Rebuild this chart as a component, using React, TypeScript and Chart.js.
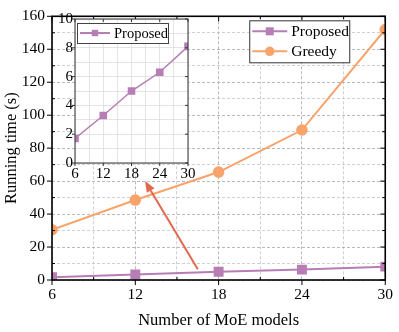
import React, { useEffect, useRef } from "react";
import { Chart, registerables } from "chart.js";

Chart.register(...registerables);

const categories = [6, 12, 18, 24, 30];
const proposed = [1.7, 3.3, 5.0, 6.3, 8.1];
const greedy = [30.5, 48.5, 65.5, 91, 152];
const seriesNames = ["Proposed", "Greedy"];
const xTitle = "Number of MoE models";
const yTitle = "Running time (s)";
const arrowFrom = { x: 16.5, y: 6.5 };
const arrowTo = { x: 12.7, y: 60 };

const FONT = "'Liberation Serif', 'Times New Roman', serif";
const PURPLE = "#b77db5";
const ORANGE = "#f6a36c";
const ARROW = "#e0694f";

function toXY(ys: number[]) {
  return categories.map((x, i) => ({ x, y: ys[i] }));
}

function drawTicks(chart: any, opts: { xMajor: number; yMajor: number; majorLen: number; minorLen: number; outward: boolean; frameColor: string; frameWidth: number; }) {
  const { ctx, chartArea: a, scales } = chart;
  const xs = scales.x, ys = scales.y;
  ctx.save();
  ctx.strokeStyle = opts.frameColor;
  ctx.lineWidth = 1;
  ctx.beginPath();
  xs.ticks.forEach((t: any) => {
    const px = xs.getPixelForValue(t.value);
    const major = Math.abs(t.value % opts.xMajor) < 1e-6 || Math.abs((t.value % opts.xMajor) - opts.xMajor) < 1e-6;
    if (major) {
      if (opts.outward) { ctx.moveTo(px, a.bottom); ctx.lineTo(px, a.bottom + opts.majorLen); }
      ctx.moveTo(px, a.top); ctx.lineTo(px, a.top + opts.majorLen);
    } else if (opts.minorLen > 0) {
      ctx.moveTo(px, a.bottom); ctx.lineTo(px, a.bottom - opts.minorLen);
      ctx.moveTo(px, a.top); ctx.lineTo(px, a.top + opts.minorLen);
    }
  });
  ys.ticks.forEach((t: any) => {
    const py = ys.getPixelForValue(t.value);
    const major = Math.abs(t.value % opts.yMajor) < 1e-6;
    if (major) {
      if (opts.outward) { ctx.moveTo(a.left, py); ctx.lineTo(a.left - opts.majorLen, py); }
      ctx.moveTo(a.right, py); ctx.lineTo(a.right - opts.majorLen, py);
    } else if (opts.minorLen > 0) {
      ctx.moveTo(a.left, py); ctx.lineTo(a.left + opts.minorLen, py);
      ctx.moveTo(a.right, py); ctx.lineTo(a.right - opts.minorLen, py);
    }
  });
  ctx.stroke();
  ctx.lineWidth = opts.frameWidth;
  ctx.strokeRect(a.left, a.top, a.right - a.left, a.bottom - a.top);
  ctx.restore();
}

function drawLegendEntry(ctx: CanvasRenderingContext2D, x: number, y: number, len: number, color: string, style: string, r: number, label: string, fontSize: number) {
  ctx.save();
  ctx.strokeStyle = color;
  ctx.lineWidth = 2;
  ctx.beginPath();
  ctx.moveTo(x, y);
  ctx.lineTo(x + len, y);
  ctx.stroke();
  ctx.fillStyle = color;
  const cx = x + len / 2;
  if (style === "rect") {
    ctx.fillRect(cx - r, y - r, 2 * r, 2 * r);
  } else {
    ctx.beginPath();
    ctx.arc(cx, y, r, 0, Math.PI * 2);
    ctx.fill();
  }
  ctx.fillStyle = "#000";
  ctx.font = `${fontSize}px ${FONT}`;
  ctx.textBaseline = "middle";
  ctx.textAlign = "left";
  ctx.fillText(label, x + len + 4, y + 1);
  ctx.restore();
}

export default function App() {
  const mainRef = useRef<HTMLCanvasElement>(null);
  const insetRef = useRef<HTMLCanvasElement>(null);

  useEffect(() => {
    const mainPlugin = {
      id: "mainDeco",
      afterDatasetsDraw(chart: any) {
        const { ctx, scales } = chart;
        const x1 = scales.x.getPixelForValue(arrowFrom.x), y1 = scales.y.getPixelForValue(arrowFrom.y);
        const x2 = scales.x.getPixelForValue(arrowTo.x), y2 = scales.y.getPixelForValue(arrowTo.y);
        const ang = Math.atan2(y2 - y1, x2 - x1);
        const hl = 11, hw = 4.5;
        const bx = x2 - hl * Math.cos(ang), by = y2 - hl * Math.sin(ang);
        ctx.save();
        ctx.strokeStyle = ARROW;
        ctx.fillStyle = ARROW;
        ctx.lineWidth = 2;
        ctx.beginPath();
        ctx.moveTo(x1, y1);
        ctx.lineTo(bx, by);
        ctx.stroke();
        ctx.beginPath();
        ctx.moveTo(x2, y2);
        ctx.lineTo(bx + hw * Math.sin(ang), by - hw * Math.cos(ang));
        ctx.lineTo(bx - hw * Math.sin(ang), by + hw * Math.cos(ang));
        ctx.closePath();
        ctx.fill();
        ctx.restore();
      },
      afterDraw(chart: any) {
        drawTicks(chart, { xMajor: 6, yMajor: 20, majorLen: 5, minorLen: 3, outward: true, frameColor: "#000", frameWidth: 1.6 });
        const { ctx, chartArea: a } = chart;
        const lx = a.right - 136, ly = a.top + 4, lw = 100, lh = 42;
        ctx.save();
        ctx.fillStyle = "#fff";
        ctx.fillRect(lx, ly, lw, lh);
        ctx.strokeStyle = "#333";
        ctx.lineWidth = 1;
        ctx.strokeRect(lx + 0.5, ly + 0.5, lw, lh);
        ctx.restore();
        drawLegendEntry(ctx, lx + 3, ly + 11, 35, PURPLE, "rect", 4, seriesNames[0], 15.5);
        drawLegendEntry(ctx, lx + 3, ly + 31, 35, ORANGE, "circle", 4.8, seriesNames[1], 15.5);
      },
    };

    const main = new Chart(mainRef.current!, {
      type: "line",
      data: {
        datasets: [
          {
            label: seriesNames[0], data: toXY(proposed), borderColor: PURPLE, backgroundColor: PURPLE,
            borderWidth: 2, pointStyle: "rect", pointRadius: 5.6, pointHoverRadius: 5.6,
          },
          {
            label: seriesNames[1], data: toXY(greedy), borderColor: ORANGE, backgroundColor: ORANGE,
            borderWidth: 2, pointStyle: "circle", pointRadius: 4.8, pointHoverRadius: 4.8,
          },
        ],
      },
      options: {
        responsive: false,
        animation: false,
        layout: { padding: { top: 11, right: 10, left: 0, bottom: 0 } },
        plugins: { legend: { display: false }, tooltip: { enabled: false } },
        scales: {
          x: {
            type: "linear", min: 6, max: 30,
            afterFit(s: any) { s.height = 52; },
            ticks: {
              stepSize: 3, autoSkip: false, maxRotation: 0, padding: 6,
              color: "#000", font: { family: FONT, size: 15.5 },
              callback: (v: any) => (v % 6 === 0 ? String(v) : ""),
            },
            grid: {
              drawTicks: false, lineWidth: 0.8,
              color: (c: any) => (c.tick && c.tick.value % 6 === 0 ? "#a8a8a8" : "#c4c4c4"),
            },
            border: { display: false, dash: [3, 2] },
            title: { display: true, text: xTitle, color: "#000", font: { family: FONT, size: 16.5 }, padding: { top: 8, bottom: 1 } },
          },
          y: {
            type: "linear", min: 0, max: 160,
            afterFit(s: any) { s.width = 52; },
            ticks: {
              stepSize: 10, autoSkip: false, padding: 7,
              color: "#000", font: { family: FONT, size: 15.5 },
              callback: (v: any) => (v % 20 === 0 ? String(v) : ""),
            },
            grid: {
              drawTicks: false, lineWidth: 0.8,
              color: (c: any) => (c.tick && c.tick.value % 20 === 0 ? "#a8a8a8" : "#c4c4c4"),
            },
            border: { display: false, dash: [3, 2] },
            title: { display: true, text: yTitle, color: "#000", font: { family: FONT, size: 16.5 }, padding: { top: 2, bottom: 4 } },
          },
        },
      },
      plugins: [mainPlugin],
    } as any);

    const insetPlugin = {
      id: "insetDeco",
      beforeDraw(chart: any) {
        const { ctx, chartArea: a } = chart;
        ctx.save();
        ctx.fillStyle = "#fff";
        ctx.fillRect(a.left, a.top, a.right - a.left, a.bottom - a.top);
        ctx.restore();
      },
      afterDraw(chart: any) {
        drawTicks(chart, { xMajor: 6, yMajor: 2, majorLen: 3, minorLen: 0, outward: true, frameColor: "#333", frameWidth: 1 });
        const { ctx, chartArea: a } = chart;
        const lx = a.left + 2, ly = a.top + 4, lw = 91, lh = 20;
        ctx.save();
        ctx.fillStyle = "#fff";
        ctx.fillRect(lx, ly, lw, lh);
        ctx.strokeStyle = "#444";
        ctx.lineWidth = 1;
        ctx.strokeRect(lx + 0.5, ly + 0.5, lw, lh);
        ctx.restore();
        drawLegendEntry(ctx, lx + 3, ly + 10, 30, PURPLE, "rect", 3.2, seriesNames[0], 14.5);
      },
    };

    const inset = new Chart(insetRef.current!, {
      type: "line",
      data: {
        datasets: [
          {
            label: seriesNames[0], data: toXY(proposed), borderColor: PURPLE, backgroundColor: PURPLE,
            borderWidth: 1.5, pointStyle: "rect", pointRadius: 4.3, pointHoverRadius: 4.3,
          },
        ],
      },
      options: {
        responsive: false,
        animation: false,
        layout: { padding: { top: 11, right: 12, left: 0, bottom: 0 } },
        plugins: { legend: { display: false }, tooltip: { enabled: false } },
        scales: {
          x: {
            type: "linear", min: 6, max: 30,
            afterFit(s: any) { s.height = 25; },
            ticks: {
              stepSize: 3, autoSkip: false, maxRotation: 0, padding: 2,
              color: "#000", font: { family: FONT, size: 15 },
              callback: (v: any) => (v % 6 === 0 ? String(v) : ""),
            },
            grid: { drawTicks: false, lineWidth: 0.7, color: "#d8d8d8" },
            border: { display: false },
          },
          y: {
            type: "linear", min: 0, max: 10,
            afterFit(s: any) { s.width = 35; },
            ticks: {
              stepSize: 1, autoSkip: false, padding: 2,
              color: "#000", font: { family: FONT, size: 15 },
              callback: (v: any) => (v % 2 === 0 ? String(v) : ""),
            },
            grid: { drawTicks: false, lineWidth: 0.7, color: "#d8d8d8" },
            border: { display: false },
          },
        },
      },
      plugins: [insetPlugin],
    } as any);

    return () => {
      main.destroy();
      inset.destroy();
    };
  }, []);

  return (
    <div style={{ position: "absolute", left: 0, top: 0, width: 399, height: 332, background: "#fff" }}>
      <canvas ref={mainRef} width={399} height={332} style={{ position: "absolute", left: 0, top: 0 }} />
      <canvas ref={insetRef} width={160} height={180} style={{ position: "absolute", left: 40, top: 8 }} />
    </div>
  );
}
